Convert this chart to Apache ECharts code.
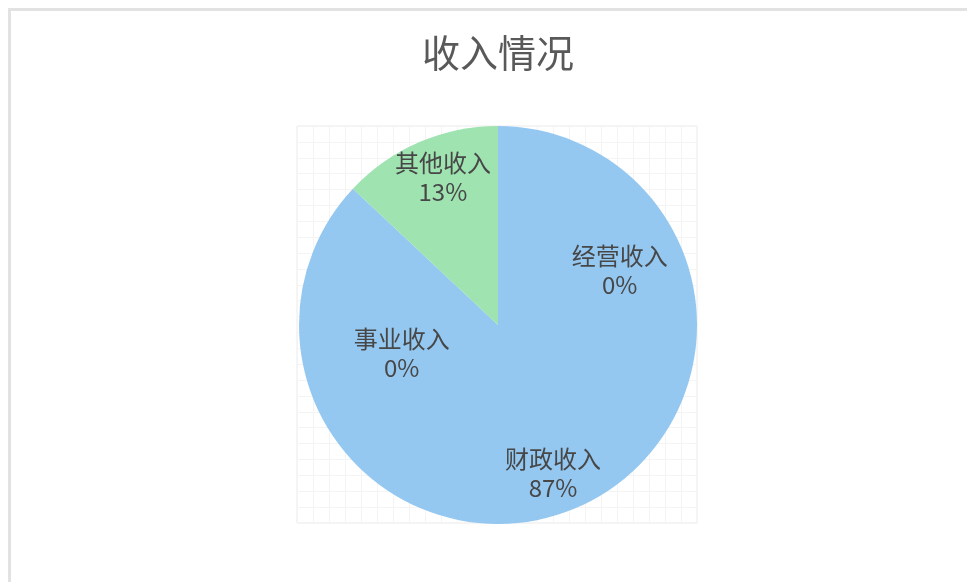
<!DOCTYPE html>
<html>
<head>
<meta charset="utf-8">
<script src="https://cdn.jsdelivr.net/npm/echarts@6/dist/echarts.min.js"></script>
<style>
  html, body { margin: 0; padding: 0; background: #ffffff; overflow: hidden; }
  #wrap { position: absolute; left: 8px; top: 8px; border: 3px solid #e2e2e2; width: 974px; height: 640px; }
  #chart { width: 974px; height: 628px; }
</style>
</head>
<body>
<div id="wrap"><div id="chart"></div></div>
<script>
// ---- data ----
var titleText = '收入情况';
var categories = ['财政收入', '经营收入', '事业收入', '其他收入'];
var values = [87, 0, 0, 13];

// ---- styles (kept apart from data) ----
var sliceColors = ['#88c2ef', '#88c2ef', '#88c2ef', '#95e0a9'];
var labelOffsets = { '经营收入': [231, 59], '事业收入': [13, 142] };

var pieData = categories.map(function (c, i) {
  return { name: c, value: values[i], itemStyle: { color: sliceColors[i] } };
});
var labelData = categories.map(function (c, i) {
  var d = { name: c, value: values[i] };
  if (labelOffsets[c]) d.label = { offset: labelOffsets[c] };
  return d;
});

var chart = echarts.init(document.getElementById('chart'), null, { renderer: 'canvas' });
chart.setOption({
  animation: false,
  backgroundColor: '#ffffff',
  title: {
    text: titleText,
    left: 'center',
    top: 18,
    textStyle: { fontFamily: 'Noto Sans CJK SC', fontSize: 38, fontWeight: 'normal', color: '#595959' }
  },
  grid: { left: 286, top: 115, width: 400, height: 397, show: true, borderColor: '#ebebeb', borderWidth: 1, backgroundColor: '#ffffff' },
  xAxis: { type: 'value', min: 0, max: 25, interval: 1, axisLine: { show: false }, axisTick: { show: false }, axisLabel: { show: false }, splitLine: { show: true, lineStyle: { color: '#f4f4f4', width: 1 } } },
  yAxis: { type: 'value', min: 0, max: 25, interval: 1, axisLine: { show: false }, axisTick: { show: false }, axisLabel: { show: false }, splitLine: { show: true, lineStyle: { color: '#f4f4f4', width: 1 } } },
  series: [
    {
      type: 'pie',
      center: [487, 314],
      radius: [0, 199],
      startAngle: 90,
      clockwise: true,
      silent: true,
      avoidLabelOverlap: false,
      label: { show: false },
      labelLine: { show: false },
      itemStyle: { opacity: 0.9, borderWidth: 0 },
      data: pieData
    },
    {
      type: 'pie',
      center: [487, 314],
      radius: [111, 199],
      startAngle: 87,
      clockwise: true,
      silent: true,
      avoidLabelOverlap: false,
      itemStyle: { color: 'rgba(0,0,0,0)', borderWidth: 0 },
      label: {
        show: true,
        position: 'inside',
        formatter: '{b}\n{d}%',
        fontFamily: 'Noto Sans CJK SC',
        fontSize: 24,
        lineHeight: 29,
        color: '#474747',
        align: 'center'
      },
      labelLine: { show: false },
      data: labelData
    }
  ]
});
</script>
</body>
</html>
